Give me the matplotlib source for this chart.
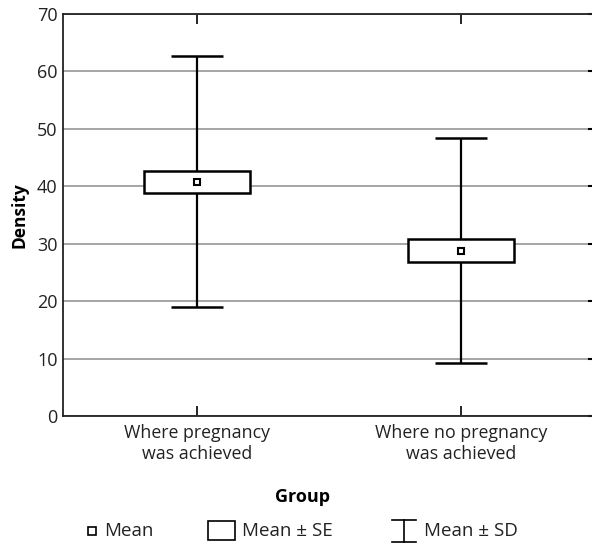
import numpy as np
import matplotlib
matplotlib.use("Agg")
import matplotlib.pyplot as plt
from matplotlib.patches import Rectangle
from matplotlib.lines import Line2D

plt.rcParams['font.family'] = ['Open Sans', 'DejaVu Sans']

# Density by group: mean, standard error and standard deviation
groups = ["Where pregnancy\nwas achieved", "Where no pregnancy\nwas achieved"]
means = [40.8, 28.8]
se = [1.9, 1.95]
sd = [21.9, 19.65]

y_ticks = [0, 10, 20, 30, 40, 50, 60, 70]

fig = plt.figure(figsize=(5.92, 5.45), dpi=100)
ax = fig.add_axes([63 / 592, 1 - 416 / 545, 532 / 592, 402 / 545])

x = np.arange(len(groups))
box_w = 0.4

# gridlines
ax.set_yticks(y_ticks)
ax.yaxis.grid(True, color='#969696', lw=1.2)
ax.set_axisbelow(True)

# Mean +/- SD whiskers
ax.errorbar(x, means, yerr=sd, fmt='none', ecolor='black', elinewidth=1.6,
            capsize=19, capthick=1.8, zorder=3)

# Mean +/- SE boxes
for xi, m, s in zip(x, means, se):
    ax.add_patch(Rectangle((xi - box_w / 2, m - s), box_w, 2 * s,
                           facecolor='white', edgecolor='black', lw=1.8, zorder=4))

# means
ax.plot(x, means, 's', ms=5, mfc='white', mec='black', mew=1.5, zorder=5)

ax.set_xlim(-0.505, 1.505)
ax.set_ylim(0, 70)
ax.set_xticks(x)
ax.set_xticklabels(groups, fontsize=12.8, color='#222222', linespacing=1.2)
ax.tick_params(axis='x', direction='in', length=7, width=1.2, top=True, pad=6)
ax.tick_params(axis='y', direction='in', length=0, labelsize=13, pad=4,
               labelcolor='#222222')

# short inward ticks on the right edge only
ax.yaxis.set_tick_params(which='major', right=True, left=False)
for t in ax.yaxis.get_major_ticks():
    t.tick2line.set_markersize(5)
    t.tick2line.set_markeredgewidth(1.5)

for sp in ax.spines.values():
    sp.set_linewidth(1.3)
    sp.set_color('#222222')

ax.set_ylabel("Density", fontsize=12.5, fontweight='bold')
ax.yaxis.set_label_coords((29 - 63) / 532, 0.5)
ax.set_xlabel("Group", fontsize=13, fontweight='bold')
ax.xaxis.set_label_coords((303 - 63) / 532, -(506 - 416) / 402)
ax.xaxis.label.set_va('bottom')

# key below the plot
ly = 1 - 531 / 545
fs = 13.5
fig.add_artist(Line2D([92 / 592], [ly], marker='s', ms=5.5, mfc='white',
                      mec='black', mew=1.2, ls='none'))
fig.text(104 / 592, ly, "Mean", fontsize=fs, va='center', color='#222222')
fig.add_artist(Rectangle((208 / 592, 1 - 540 / 545), 27 / 592, 19 / 545,
                         facecolor='white', edgecolor='black', lw=1.2))
fig.text(242 / 592, ly, "Mean ± SE", fontsize=fs, va='center', color='#222222')
ibeam_x = 404 / 592
fig.add_artist(Line2D([ibeam_x, ibeam_x], [1 - 520 / 545, 1 - 542 / 545],
                      color='black', lw=1.2))
fig.add_artist(Line2D([392 / 592, 416 / 592], [1 - 520 / 545] * 2, color='black', lw=1.2))
fig.add_artist(Line2D([392 / 592, 416 / 592], [1 - 542 / 545] * 2, color='black', lw=1.2))
fig.text(424 / 592, ly, "Mean ± SD", fontsize=fs, va='center', color='#222222')

fig.savefig("out.png", dpi=100)
